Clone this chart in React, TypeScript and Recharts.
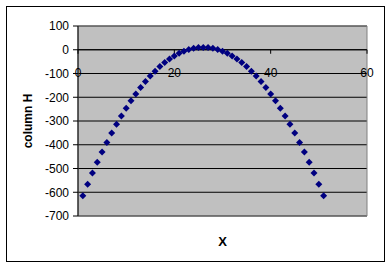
import React from "react";
import {
  ScatterChart,
  Scatter,
  XAxis,
  YAxis,
  CartesianGrid,
  ReferenceLine,
  ReferenceArea,
  ReferenceDot,
} from "recharts";

// values
const xValues = [
  1, 2, 3, 4, 5, 6, 7, 8, 9, 10, 11, 12, 13, 14, 15, 16, 17, 18, 19, 20, 21,
  22, 23, 24, 25, 26, 27, 28, 29, 30, 31, 32, 33, 34, 35, 36, 37, 38, 39, 40,
  41, 42, 43, 44, 45, 46, 47, 48, 49, 50, 51,
];
const columnH = [
  -615, -566, -519, -474, -431, -390, -351, -314, -279, -246, -215, -186, -159,
  -134, -111, -90, -71, -54, -39, -26, -15, -6, 1, 6, 9, 10, 9, 6, 1, -6, -15,
  -26, -39, -54, -71, -90, -111, -134, -159, -186, -215, -246, -279, -314,
  -351, -390, -431, -474, -519, -566, -615,
];
const xTicks = [0, 20, 40, 60];
const yTicks = [-700, -600, -500, -400, -300, -200, -100, 0, 100];

const data = xValues.map((x, i) => ({ x, h: columnH[i] }));

const FONT = '"Liberation Sans", Arial, sans-serif';

// Excel style diamond marker
const Diamond = (props: any) => {
  const { cx, cy } = props;
  const r = 3.5;
  return (
    <polygon
      points={`${cx},${cy - r} ${cx + r},${cy} ${cx},${cy + r} ${cx - r},${cy}`}
      fill="#000080"
    />
  );
};

// x axis crosses at y = 0, so its ticks are drawn at (v, 0)
const XTick = (value: number) => (props: any) => {
  const { cx, cy } = props;
  return (
    <g>
      <line x1={cx} y1={cy} x2={cx} y2={cy + 4} stroke="#000" />
      <text
        x={cx}
        y={cy + 27}
        textAnchor="middle"
        fontSize={12}
        fontFamily={FONT}
        fill="#000"
      >
        {value}
      </text>
    </g>
  );
};

export default function App() {
  return (
    <div
      style={{
        position: "absolute",
        left: 0,
        top: 0,
        width: 392,
        height: 268,
        background: "#fff",
      }}
    >
      <div
        style={{
          position: "absolute",
          left: 6,
          top: 6,
          width: 379,
          height: 256,
          boxSizing: "border-box",
          border: "1px solid #000",
        }}
      />
      <div style={{ position: "absolute", left: 0, top: 0 }}>
        <ScatterChart
          width={392}
          height={268}
          margin={{ top: 26, right: 25, bottom: 0, left: 0 }}
        >
          <CartesianGrid
            vertical={false}
            stroke="#000"
            fill="#C0C0C0"
            fillOpacity={1}
          />
          <ReferenceArea
            x1={0}
            x2={60}
            y1={-700}
            y2={100}
            fill="none"
            stroke="#808080"
          />
          <XAxis
            type="number"
            dataKey="x"
            domain={[0, 60]}
            ticks={xTicks}
            tick={false}
            axisLine={false}
            tickLine={false}
            height={52}
            label={{
              value: "X",
              position: "insideTop",
              offset: 21,
              fontSize: 13,
              fontWeight: "bold",
              fontFamily: FONT,
              fill: "#000",
            }}
          />
          <YAxis
            type="number"
            dataKey="h"
            domain={[-700, 100]}
            ticks={yTicks}
            width={78}
            interval={0}
            axisLine={{ stroke: "#000" }}
            tickLine={{ stroke: "#000" }}
            tickSize={5}
            tickMargin={4}
            tick={{ fontSize: 12, fontFamily: FONT, fill: "#000" }}
            label={{
              value: "column H",
              angle: -90,
              position: "insideLeft",
              offset: 28,
              fontSize: 12,
              fontWeight: "bold",
              fontFamily: FONT,
              fill: "#000",
              style: { textAnchor: "middle" },
            }}
          />
          <ReferenceLine y={0} stroke="#000" />
          {xTicks.map((v) => (
            <ReferenceDot key={v} x={v} y={0} shape={XTick(v)} />
          ))}
          <Scatter
            data={data}
            shape={Diamond}
            isAnimationActive={false}
          />
        </ScatterChart>
      </div>
    </div>
  );
}
